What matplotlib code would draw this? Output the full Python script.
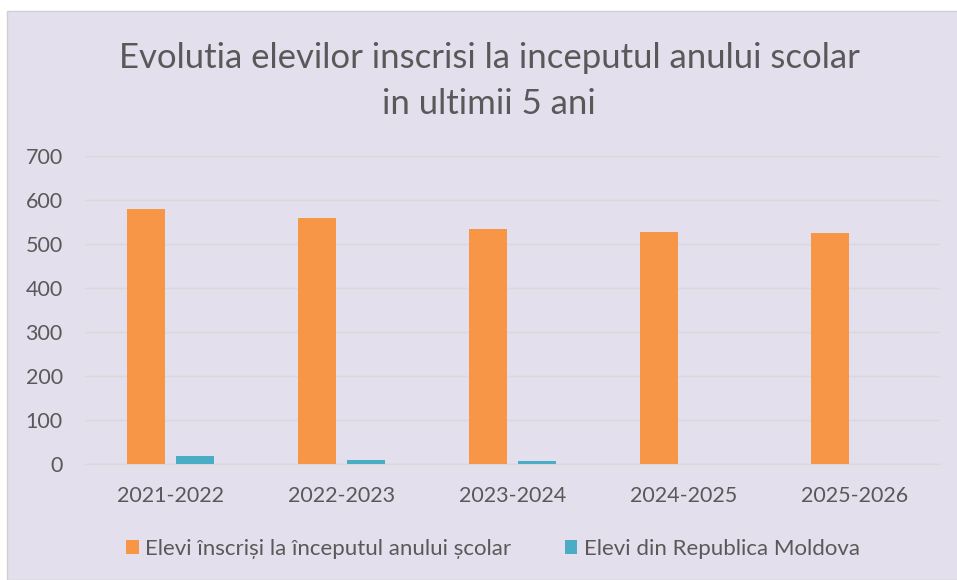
import matplotlib.pyplot as plt
import matplotlib.patches as mpatches
import numpy as np

years = ['2021-2022', '2022-2023', '2023-2024', '2024-2025', '2025-2026']
inscrisi = [580, 558, 535, 527, 525]
moldova = [18, 8, 6, 0, 0]
labels = ['Elevi înscriși la începutul anului școlar', 'Elevi din Republica Moldova']
title = ['Evolutia elevilor inscrisi la inceputul anului scolar', 'in ultimii 5 ani']

bg = '#E4DFEC'
txt = '#595959'
plt.rcParams['font.family'] = ['Lato', 'DejaVu Sans']

fig = plt.figure(figsize=(9.57, 5.8), dpi=100, facecolor='white')
fig.patches.append(mpatches.Rectangle((6.5 / 957, 0), 1, 1 - 11 / 580, transform=fig.transFigure,
                                      facecolor=bg, edgecolor='#D0D0D0', linewidth=1, zorder=-1))
ax = fig.add_axes([85 / 957, 0.2, 855 / 957, 0.531])
ax.set_facecolor(bg)

x = np.arange(len(years))
w = 0.225
ax.bar(x - 0.142, inscrisi, w, color='#F79646', label=labels[0], zorder=3)
ax.bar(x + 0.142, moldova, w, color='#4BACC6', label=labels[1], zorder=3)

ax.set_xlim(-0.5, 4.5)
ax.set_ylim(0, 700)
ax.set_yticks(range(0, 701, 100))
ax.set_xticks(x)
ax.set_xticklabels(years)
ax.grid(axis='y', color='#D9D9D9', linewidth=1, zorder=0)
for s in ['top', 'right', 'left']:
    ax.spines[s].set_visible(False)
ax.spines['bottom'].set_color('#D9D9D9')
ax.tick_params(length=0, labelsize=15.5, colors=txt)
ax.tick_params(axis='y', pad=16)
ax.tick_params(axis='x', pad=16)

fig.text(489 / 957, 1 - 58 / 580, title[0], ha='center', va='center', fontsize=25, color=txt)
fig.text(489 / 957, 1 - 104 / 580, title[1], ha='center', va='center', fontsize=25, color=txt)

fig.legend(loc='center', bbox_to_anchor=(493 / 957, 1 - 549 / 580), ncol=2, frameon=False,
           fontsize=16, labelcolor=txt, handlelength=0.55, handleheight=0.55,
           handletextpad=0.3, columnspacing=2.4)

fig.savefig('out.png', dpi=100, facecolor='white')
